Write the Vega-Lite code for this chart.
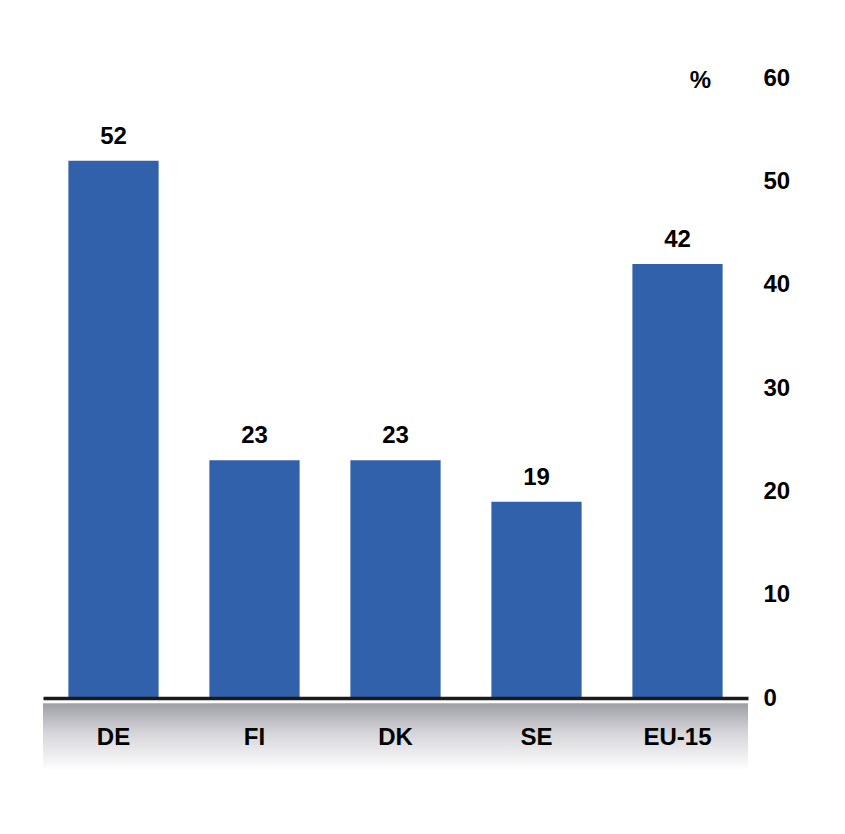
{
  "$schema": "https://vega.github.io/schema/vega-lite/v6.json",
  "width": 705,
  "height": 620,
  "autosize": {"type": "none"},
  "padding": {"left": 43, "top": 78, "right": 97, "bottom": 136},
  "background": "white",
  "config": {
    "view": {"stroke": null},
    "font": "Liberation Sans"
  },
  "datasets": {
    "bars": [
      {"country": "DE", "value": 52},
      {"country": "FI", "value": 23},
      {"country": "DK", "value": 23},
      {"country": "SE", "value": 19},
      {"country": "EU-15", "value": 42}
    ],
    "band": [{"top": -0.5, "bottom": -7}]
  },
  "layer": [
    {
      "data": {"name": "band"},
      "mark": {
        "type": "rect",
        "clip": false,
        "color": {
          "gradient": "linear",
          "x1": 0, "y1": 0, "x2": 0, "y2": 1,
          "stops": [
            {"offset": 0, "color": "#9e9ea7"},
            {"offset": 0.45, "color": "#d6d6da"},
            {"offset": 1, "color": "#ffffff"}
          ]
        }
      },
      "encoding": {
        "y": {"field": "top", "type": "quantitative", "scale": {"domain": [0, 60], "nice": false, "clamp": false}},
        "y2": {"field": "bottom"}
      }
    },
    {
      "data": {"name": "bars"},
      "mark": {"type": "bar", "color": "#3261ab"},
      "encoding": {
        "x": {
          "field": "country", "type": "nominal", "sort": null,
          "scale": {"paddingInner": 0.36, "paddingOuter": 0.18},
          "axis": {
            "title": null,
            "zindex": 2,
            "ticks": false,
            "domainColor": "#1a1a1a",
            "domainWidth": 3.5,
            "labelFont": "Liberation Sans",
            "labelFontWeight": "bold",
            "labelFontSize": 24,
            "labelColor": "black",
            "labelPadding": 27,
            "labelAngle": 0
          }
        },
        "y": {
          "field": "value", "type": "quantitative",
          "scale": {"domain": [0, 60], "nice": false},
          "axis": {
            "orient": "right",
            "zindex": 2,
            "values": [0, 10, 20, 30, 40, 50, 60],
            "grid": false,
            "domain": false,
            "ticks": false,
            "labelFont": "Liberation Sans",
            "labelFontWeight": "bold",
            "labelFontSize": 24,
            "labelColor": "black",
            "labelPadding": 15,
            "labelAlign": "left",
            "labelBaseline": "middle",
            "title": "%",
            "titleAngle": 0,
            "titleFont": "Liberation Sans",
            "titleFontWeight": "bold",
            "titleFontSize": 24,
            "titleColor": "black",
            "titleX": -48,
            "titleY": 2,
            "titleAlign": "center",
            "titleBaseline": "middle"
          }
        }
      }
    },
    {
      "data": {"name": "bars"},
      "mark": {"type": "text", "font": "Liberation Sans", "fontWeight": "bold", "fontSize": 24, "color": "black", "baseline": "alphabetic", "dy": -17},
      "encoding": {
        "x": {"field": "country", "type": "nominal", "sort": null},
        "y": {"field": "value", "type": "quantitative"},
        "text": {"field": "value", "type": "quantitative"}
      }
    }
  ]
}
